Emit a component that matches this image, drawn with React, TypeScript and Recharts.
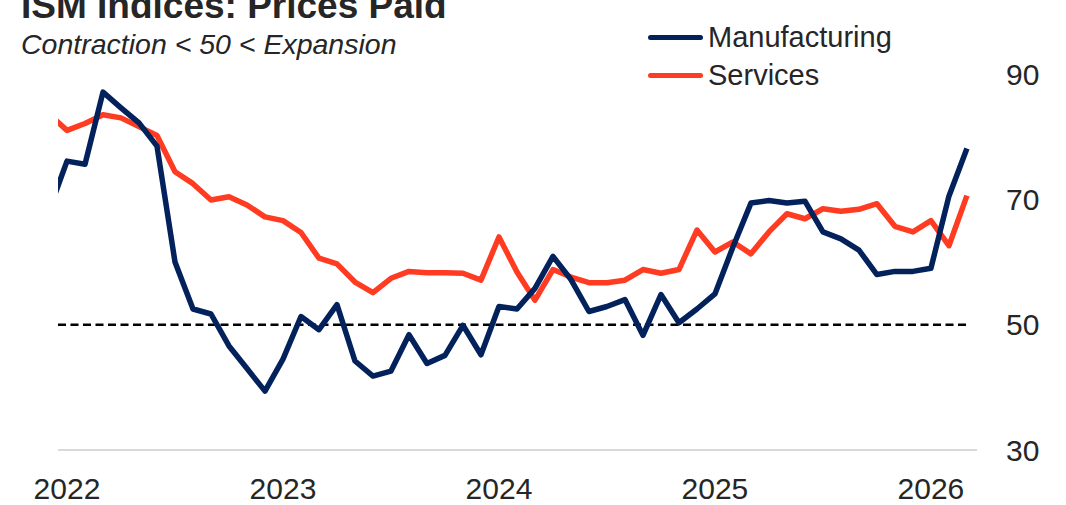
import { LineChart, Line, XAxis, YAxis, ReferenceLine, Legend } from "recharts";

const FONT = '"Liberation Sans", Arial, sans-serif';
const TEXT_COLOR = "#262626";

// monthly readings, Dec 2021 .. Mar 2026 (Dec 2021 sits just left of the plot and is clipped)
const months = [
  "Dec 2021",
  "Jan 2022", "Feb 2022", "Mar 2022", "Apr 2022", "May 2022", "Jun 2022",
  "Jul 2022", "Aug 2022", "Sep 2022", "Oct 2022", "Nov 2022", "Dec 2022",
  "Jan 2023", "Feb 2023", "Mar 2023", "Apr 2023", "May 2023", "Jun 2023",
  "Jul 2023", "Aug 2023", "Sep 2023", "Oct 2023", "Nov 2023", "Dec 2023",
  "Jan 2024", "Feb 2024", "Mar 2024", "Apr 2024", "May 2024", "Jun 2024",
  "Jul 2024", "Aug 2024", "Sep 2024", "Oct 2024", "Nov 2024", "Dec 2024",
  "Jan 2025", "Feb 2025", "Mar 2025", "Apr 2025", "May 2025", "Jun 2025",
  "Jul 2025", "Aug 2025", "Sep 2025", "Oct 2025", "Nov 2025", "Dec 2025",
  "Jan 2026", "Feb 2026", "Mar 2026",
];

const manufacturing = [
  68.2,
  76.1, 75.6, 87.1, 84.6, 82.2, 78.5, 60.0, 52.5, 51.7, 46.6, 43.0, 39.4,
  44.5, 51.3, 49.2, 53.2, 44.2, 41.8, 42.6, 48.4, 43.8, 45.1, 49.9, 45.2,
  52.9, 52.5, 55.8, 60.9, 57.2, 52.1, 52.9, 54.0, 48.3, 54.8, 50.3, 52.5,
  54.9, 62.4, 69.4, 69.8, 69.4, 69.7, 64.8, 63.7, 61.9, 58.0, 58.5, 58.5,
  59.0, 70.5, 78.1,
];

const services = [
  83.6,
  81.0, 82.1, 83.5, 83.0, 81.6, 80.2, 74.4, 72.5, 69.9, 70.4, 69.1, 67.2,
  66.6, 64.7, 60.6, 59.7, 56.8, 55.1, 57.4, 58.5, 58.3, 58.3, 58.2, 57.1,
  64.0, 58.4, 53.9, 58.8, 57.6, 56.7, 56.7, 57.1, 58.8, 58.2, 58.8, 65.1,
  61.6, 63.2, 61.3, 64.8, 67.7, 66.9, 68.5, 68.1, 68.4, 69.3, 65.7, 64.8,
  66.6, 62.6, 70.6,
];

const yearLabels = ["2022", "2023", "2024", "2025", "2026"];
const yearTicks = [0, 12, 24, 36, 48];
const yTicks = [30, 50, 70, 90];

const SERIES = [
  { key: "manufacturing", name: "Manufacturing", color: "#03225c" },
  { key: "services", name: "Services", color: "#ff3b22" },
];

const data = months.map((month, i) => ({
  month,
  m: i - 1,
  manufacturing: manufacturing[i],
  services: services[i],
}));

function ChartLegend() {
  return (
    <div style={{ fontFamily: FONT }}>
      {SERIES.map((s) => (
        <div
          key={s.key}
          style={{ display: "flex", alignItems: "center", height: 38 }}
        >
          <span
            style={{
              display: "inline-block",
              width: 55,
              height: 5,
              borderRadius: 3,
              background: s.color,
              marginRight: 5,
            }}
          />
          <span style={{ fontSize: 29, color: TEXT_COLOR, lineHeight: "38px" }}>
            {s.name}
          </span>
        </div>
      ))}
    </div>
  );
}

export default function App() {
  return (
    <div
      style={{
        position: "absolute",
        left: 0,
        top: 0,
        width: 1066,
        height: 505,
        overflow: "hidden",
        background: "#fff",
        fontFamily: FONT,
      }}
    >
      <div
        style={{
          position: "absolute",
          left: 21,
          top: -13,
          fontSize: 37,
          lineHeight: "37px",
          fontWeight: 700,
          color: TEXT_COLOR,
          whiteSpace: "nowrap",
        }}
      >
        ISM Indices: Prices Paid
      </div>
      <div
        style={{
          position: "absolute",
          left: 21,
          top: 30,
          fontSize: 28.5,
          lineHeight: "29px",
          fontStyle: "italic",
          color: TEXT_COLOR,
          whiteSpace: "nowrap",
        }}
      >
        Contraction &lt; 50 &lt; Expansion
      </div>
      <LineChart
        width={1066}
        height={505}
        data={data}
        margin={{ top: 74, right: 0, bottom: 0, left: 58 }}
      >
        <XAxis
          type="number"
          dataKey="m"
          domain={[-0.5, 50.56]}
          allowDataOverflow
          ticks={yearTicks}
          tickFormatter={(v) => yearLabels[yearTicks.indexOf(v)] ?? ""}
          height={55}
          tickLine={false}
          tickSize={0}
          tickMargin={28}
          axisLine={{ stroke: "#d9d9d9", strokeWidth: 2 }}
          tick={{ fill: TEXT_COLOR, fontSize: 30, fontFamily: FONT }}
        />
        <YAxis
          orientation="right"
          type="number"
          domain={[30, 90]}
          ticks={yTicks}
          width={89}
          axisLine={false}
          tickLine={false}
          tickSize={0}
          tickMargin={29}
          tick={{ fill: TEXT_COLOR, fontSize: 30, fontFamily: FONT, textAnchor: "start" }}
        />
        <ReferenceLine
          segment={[
            { x: -0.5, y: 50 },
            { x: 50, y: 50 },
          ]}
          stroke="#000"
          strokeWidth={2.5}
          strokeDasharray="8 4.5"
          ifOverflow="visible"
        />
        <Legend
          layout="vertical"
          align="center"
          verticalAlign="middle"
          content={<ChartLegend />}
          wrapperStyle={{ position: "absolute", left: 648, top: 18, width: 320 }}
        />
        <Line
          type="linear"
          dataKey="services"
          name="Services"
          stroke={SERIES[1].color}
          strokeWidth={5.5}
          strokeLinejoin="round"
          dot={false}
          activeDot={false}
          isAnimationActive={false}
        />
        <Line
          type="linear"
          dataKey="manufacturing"
          name="Manufacturing"
          stroke={SERIES[0].color}
          strokeWidth={5.5}
          strokeLinejoin="round"
          dot={false}
          activeDot={false}
          isAnimationActive={false}
        />
      </LineChart>
    </div>
  );
}
